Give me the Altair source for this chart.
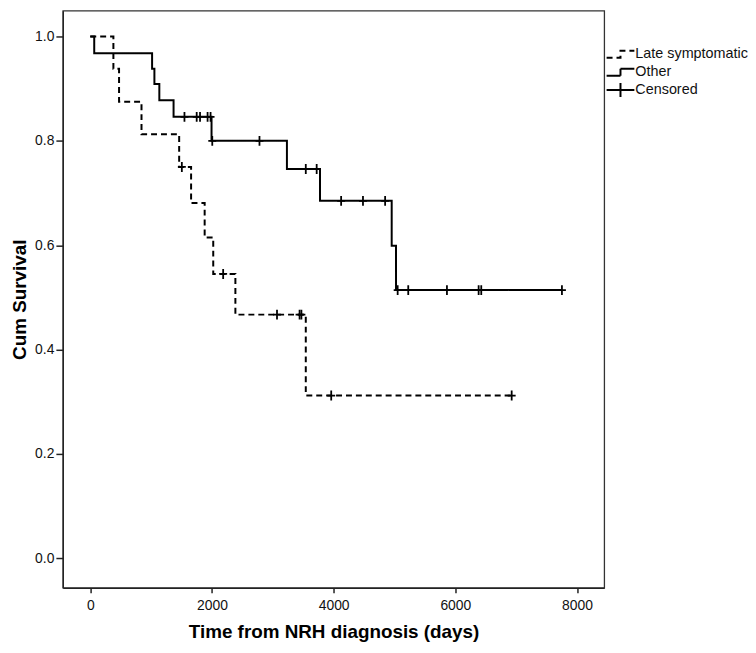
import altair as alt
import pandas as pd

# ---- values ----
group_names = ["Late symptomatic", "Other"]
censored_label = "Censored"

# Late symptomatic: step times (days) and survival level after each step
late_times = [0, 380, 473, 842, 1461, 1657, 1880, 2021, 2385, 3542, 6926]
late_surv = [1.0, 0.938, 0.875, 0.8125, 0.750, 0.681, 0.615, 0.545, 0.467, 0.312, 0.312]
late_censored = [1505, 2184, 3069, 3440, 3470, 3960, 6926]

# Other
other_times = [0, 65, 1016, 1054, 1135, 1369, 1993, 3232, 3776, 4954, 5025, 7752]
other_surv = [1.0, 0.968, 0.938, 0.909, 0.878, 0.846, 0.800, 0.746, 0.685, 0.599, 0.514, 0.514]
other_censored = [1548, 1749, 1804, 1928, 1977, 2005, 2781, 3542, 3721, 4123, 4482,
                  4846, 5052, 5226, 5862, 6383, 6426, 7752]

x_ticks = [0, 2000, 4000, 6000, 8000]
y_ticks = [0.0, 0.2, 0.4, 0.6, 0.8, 1.0]
x_domain = [-451, 8447]
y_domain = [-0.0564, 1.0494]


def level_at(times, surv, t):
    v = surv[0]
    for ti, si in zip(times, surv):
        if ti <= t:
            v = si
    return v


step_rows = []
for name, ts, ss in [(group_names[0], late_times, late_surv), (group_names[1], other_times, other_surv)]:
    for i, (t, s) in enumerate(zip(ts, ss)):
        step_rows.append({"group": name, "time": t, "surv": s, "order": i})
steps = pd.DataFrame(step_rows)

cens_rows = []
for name, ts, ss, cs in [(group_names[0], late_times, late_surv, late_censored),
                         (group_names[1], other_times, other_surv, other_censored)]:
    for c in cs:
        cens_rows.append({"group": name, "time": c, "surv": level_at(ts, ss, c), "lab": censored_label})
cens = pd.DataFrame(cens_rows)

FONT = "Liberation Sans"
step_path = "M-2,0.5H0V-0.5H2"
plus_legend_path = "M-2,0H2M0,-1V1"
plus_mark_path = "M-0.8,0H0.8M0,-1V1"

x_enc = alt.X("time:Q", scale=alt.Scale(domain=x_domain, nice=False, zero=False),
              axis=alt.Axis(values=x_ticks, title="Time from NRH diagnosis (days)", format="d",
                            titlePadding=10))
y_enc = alt.Y("surv:Q", scale=alt.Scale(domain=y_domain, nice=False, zero=False),
              axis=alt.Axis(values=y_ticks, title="Cum Survival", format=".1f", tickSize=7,
                            labelPadding=2, titlePadding=5))

legend_common = dict(orient="none", title=None, labelFont=FONT, labelFontSize=14.5,
                     labelColor="#111", symbolSize=196, symbolStrokeWidth=2,
                     labelOffset=7, rowPadding=2, padding=0, legendX=554.4)

lines = alt.Chart(steps).mark_line(interpolate="step-after", strokeWidth=2, color="black").encode(
    x=x_enc,
    y=y_enc,
    strokeDash=alt.StrokeDash(
        "group:N",
        scale=alt.Scale(domain=group_names, range=[[6, 4], [1, 0]]),
        legend=alt.Legend(symbolType=step_path, legendY=36, symbolStrokeColor="black",
                          **legend_common),
    ),
    order="order:Q",
)

points = alt.Chart(cens).mark_point(shape=plus_mark_path, size=100, strokeWidth=1.8,
                                    filled=False, opacity=1).encode(
    x="time:Q",
    y="surv:Q",
    color=alt.Color(
        "lab:N",
        scale=alt.Scale(domain=[censored_label], range=["black"]),
        legend=alt.Legend(symbolType=plus_legend_path, legendY=72, **legend_common),
    ),
)

chart = alt.layer(lines, points).properties(
    width=546,
    height=582,
    autosize=alt.AutoSizeParams(type="none"),
    padding={"left": 55.3, "top": 0, "right": 145, "bottom": 55},
).configure_view(
    stroke="#333", strokeWidth=1.3
).configure_axis(
    grid=False,
    domainColor="#222",
    domainWidth=1.3,
    tickColor="#222",
    tickWidth=1.5,
    tickSize=5,
    labelFont=FONT,
    labelFontSize=14,
    labelColor="#111",
    labelPadding=6,
    titleFont=FONT,
    titleFontSize=19,
    titleFontWeight="bold",
    titleColor="#000",
)

chart.save("out.html", embed_options={"renderer": "svg", "actions": False})
